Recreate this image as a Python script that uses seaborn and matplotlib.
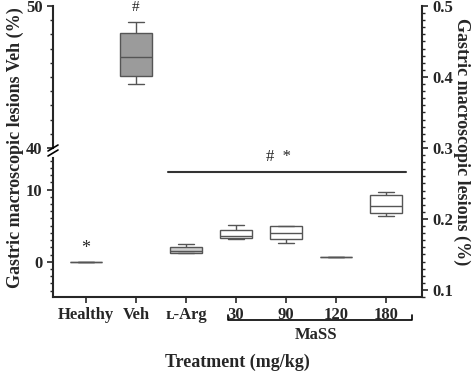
import pandas as pd
import matplotlib.pyplot as plt
import seaborn as sns
from matplotlib.ticker import MultipleLocator

# groups on the x axis and box values (min, q1, median, q3, max)
groups = ['Healthy', 'Veh', 'ʟ-Arg', '30', '90', '120', '180']
healthy = [0, 0, 0, 0, 0]
veh = [44.5, 45.1, 46.4, 48.1, 48.9]
l_arg = [1.2, 1.25, 1.5, 2.1, 2.5]
mass_30 = [3.2, 3.3, 3.6, 4.4, 5.1]
mass_90 = [2.6, 3.1, 4.0, 5.0, 5.0]
mass_120 = [0.7, 0.7, 0.7, 0.7, 0.7]
mass_180 = [6.4, 6.7, 7.8, 9.2, 9.7]
right_ticks = [0.1, 0.2, 0.3, 0.4, 0.5]

data = pd.DataFrame({
    'group': [g for g, vals in zip(groups, [healthy, veh, l_arg, mass_30, mass_90, mass_120, mass_180]) for _ in vals],
    'value': healthy + veh + l_arg + mass_30 + mass_90 + mass_120 + mass_180,
})

colors = {'Healthy': 'white', 'Veh': '#9b9b9b', 'ʟ-Arg': '#cfcfcf',
          '30': 'white', '90': 'white', '120': 'white', '180': 'white'}

sns.set_style('ticks')
plt.rcParams['font.family'] = ['Liberation Serif', 'DejaVu Serif']
plt.rcParams['font.weight'] = 'bold'
plt.rcParams['axes.linewidth'] = 1.5

fig = plt.figure(figsize=(4.74, 3.88), dpi=100)
left, width = 53 / 474, 369 / 474
ax_top = fig.add_axes([left, 1 - 148 / 388, width, 142 / 388])
ax_bot = fig.add_axes([left, 1 - 297 / 388, width, 139 / 388])
ax_r = fig.add_axes([left, 1 - 297 / 388, width, 291 / 388])

for ax in (ax_top, ax_bot):
    sns.boxplot(data=data, x='group', y='value', hue='group', order=groups, hue_order=groups,
                palette=colors, dodge=False, legend=False, width=0.65,
                linecolor='#555555', linewidth=1, ax=ax)
    ax.set_xlim(-0.66, 6.72)
    ax.set_ylabel('')
    ax.set_xlabel('')
    ax.yaxis.set_minor_locator(MultipleLocator(1))
    ax.tick_params(axis='both', which='major', length=4, width=1.2, labelsize=12)
    ax.tick_params(axis='y', which='minor', length=2, width=1)
    ax.patch.set_alpha(0)

ax_top.set_ylim(40, 50)
ax_top.set_yticks([40, 50])
ax_top.spines[['top', 'right', 'bottom']].set_visible(False)
ax_top.xaxis.set_visible(False)

ax_bot.set_ylim(-4.9, 14.4)
ax_bot.set_yticks([0, 10])
ax_bot.spines[['top', 'right']].set_visible(False)
ax_bot.set_xticks(range(len(groups)))
ax_bot.set_xticklabels(groups)

# right axis spanning the full height
ax_r.set_ylim(0.09, 0.5)
ax_r.set_yticks(right_ticks)
ax_r.set_yticklabels([str(t) for t in right_ticks])
ax_r.yaxis.set_minor_locator(MultipleLocator(0.01))
ax_r.yaxis.tick_right()
ax_r.tick_params(axis='y', which='major', length=4, width=1.2, labelsize=12)
ax_r.tick_params(axis='y', which='minor', length=2, width=1)
ax_r.spines[['top', 'left', 'bottom']].set_visible(False)
ax_r.set_xticks([])
ax_r.patch.set_alpha(0)
ax_r.set_zorder(-1)

# axis break marks
for yb in (148, 153):
    fig.add_artist(plt.Line2D([left - 5 / 474, left + 5 / 474],
                              [1 - (yb + 3) / 388, 1 - (yb - 3) / 388],
                              color='black', lw=1.2))

# significance marks
ax_top.text(1, 49.9, '#', ha='center', va='center', fontsize=11, fontweight='normal', clip_on=False)
ax_bot.text(0, 1.9, '*', ha='center', va='center', fontsize=13, fontweight='normal')
ax_bot.plot([1.64, 6.4], [12.4, 12.4], color='#333333', lw=1.5)
ax_bot.text(3.84, 14.6, '#  *', ha='center', va='center', fontsize=12, fontweight='normal', clip_on=False)

# MaSS bracket below the dose labels
tr = ax_bot.get_xaxis_transform()
ax_bot.plot([2.84, 2.84, 6.52, 6.52], [-0.13, -0.165, -0.165, -0.13], color='black', lw=1.2,
            transform=tr, clip_on=False)
ax_bot.text(4.6, -0.27, 'MaSS', ha='center', va='center', fontsize=12, transform=tr)

fig.text(237 / 474, 1 - 362 / 388, 'Treatment (mg/kg)', ha='center', va='center', fontsize=13)
fig.text(15 / 474, 1 - 148 / 388, 'Gastric macroscopic lesions Veh (%)', rotation=90,
         ha='center', va='center', fontsize=13)
fig.text(462 / 474, 1 - 142 / 388, 'Gastric macroscopic lesions (%)', rotation=270,
         ha='center', va='center', fontsize=13)

fig.savefig('out.png', dpi=100)
